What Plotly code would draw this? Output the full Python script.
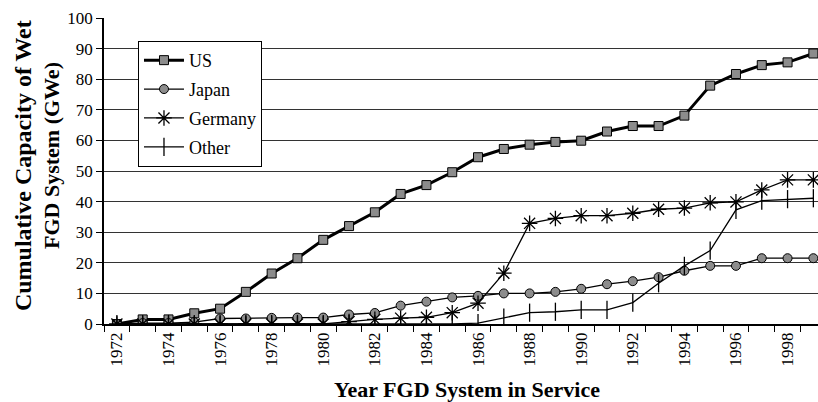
import plotly.graph_objects as go

years = list(range(1972, 2000))
us = [0, 1.5, 1.5, 3.5, 5, 10.5, 16.5, 21.5, 27.5, 32, 36.5, 42.5, 45.4, 49.6,
      54.5, 57.2, 58.6, 59.5, 59.9, 62.9, 64.7, 64.7, 68.1, 77.9, 81.7, 84.6, 85.5, 88.4]
japan = [0, 0.3, 0.3, 0.6, 1.8, 1.8, 2.0, 2.1, 2.1, 3.1, 3.6, 6.0, 7.3, 8.7,
         9.2, 10.0, 10.0, 10.5, 11.5, 13.0, 14.0, 15.3, 17.4, 19.0, 19.0, 21.5, 21.5, 21.5]
germany = [0, 0, 0, 0, 0, 0, 0, 0, 0, 0.8, 1.5, 1.9, 2.2, 3.7,
           6.8, 16.6, 32.9, 34.5, 35.4, 35.4, 36.2, 37.5, 37.9, 39.6, 39.9, 43.8, 47.1, 47.1]
other = [0, 0, 0, 0, 0, 0, 0, 0, 0, 0, 0, 0, 0, 0,
         0.3, 2.1, 3.7, 4.0, 4.6, 4.6, 7.0, 13.3, 19.0, 24.0, 37.3, 40.3, 40.8, 41.1]
label_years = list(range(1972, 2000, 2))
y_ticks = list(range(0, 101, 10))

font_family = "Liberation Serif, DejaVu Serif, serif"

fig = go.Figure()
fig.add_trace(go.Scatter(
    x=years, y=us, name="US", mode="lines+markers", legendgroup="us",
    line=dict(color="black", width=3),
    marker=dict(symbol="square", size=9, color="#8c8c8c", line=dict(color="black", width=1))))
fig.add_trace(go.Scatter(
    x=years, y=japan, name="Japan", mode="lines+markers", legendgroup="jp",
    line=dict(color="black", width=1.3),
    marker=dict(symbol="circle", size=9, color="#8c8c8c", line=dict(color="black", width=1))))
fig.add_trace(go.Scatter(
    x=years, y=germany, name="Germany", mode="lines+markers", legendgroup="de",
    line=dict(color="black", width=1.3),
    marker=dict(symbol="asterisk-open", size=13, color="black", line=dict(color="black", width=1.3))))
fig.add_trace(go.Scatter(
    x=years, y=other, name="Other", mode="lines+markers", legendgroup="ot",
    line=dict(color="black", width=1.3),
    marker=dict(symbol="line-ns-open", size=13, color="black", line=dict(color="black", width=1.3))))

fig.update_layout(
    width=818, height=402,
    margin=dict(l=104, r=0, t=18, b=78),
    paper_bgcolor="white", plot_bgcolor="white",
    font=dict(family=font_family, color="black", size=17),
    showlegend=True,
    legend=dict(
        x=0.0476, y=0.925, xanchor="left", yanchor="top",
        bordercolor="black", borderwidth=1, bgcolor="white",
        font=dict(family=font_family, size=18, color="black"),
        tracegroupgap=2.5, itemwidth=40,
    ),
    xaxis=dict(
        range=[1971.5, 1999.18], automargin=False,
        tickmode="array", tickvals=label_years, ticktext=[str(y) for y in label_years],
        tickangle=-90, ticks="", showgrid=False,
        showline=True, linecolor="black", linewidth=1.5,
        tickfont=dict(family=font_family, size=17),
        minor=dict(tick0=1971.5, dtick=1, ticks="outside", ticklen=6, tickcolor="black", showgrid=False),
    ),
    yaxis=dict(
        range=[0, 100], tickmode="array", tickvals=y_ticks, automargin=False,
        showgrid=True, gridcolor="#333333", gridwidth=1,
        showline=True, linecolor="black", linewidth=1.5,
        ticks="outside", ticklen=6, tickcolor="black",
        tickfont=dict(family=font_family, size=17),
        zeroline=False,
    ),
    annotations=[
        dict(text="<b>Year FGD System in Service</b>", xref="paper", yref="paper",
             x=0.508, y=0, yshift=-65, xanchor="center", yanchor="middle", showarrow=False,
             font=dict(family=font_family, size=22, color="black")),
        dict(text="<b>Cumulative Capacity of Wet</b>", xref="paper", yref="paper",
             x=0, y=0.516, xshift=-81, xanchor="center", yanchor="middle", textangle=-90,
             showarrow=False, font=dict(family=font_family, size=24, color="black")),
        dict(text="<b>FGD System (GWe)</b>", xref="paper", yref="paper",
             x=0, y=0.549, xshift=-53, xanchor="center", yanchor="middle", textangle=-90,
             showarrow=False, font=dict(family=font_family, size=22, color="black")),
    ],
)

fig.write_html("out.html", config={"displayModeBar": False},
               post_script="document.body.style.margin='0';document.body.style.padding='0';")
